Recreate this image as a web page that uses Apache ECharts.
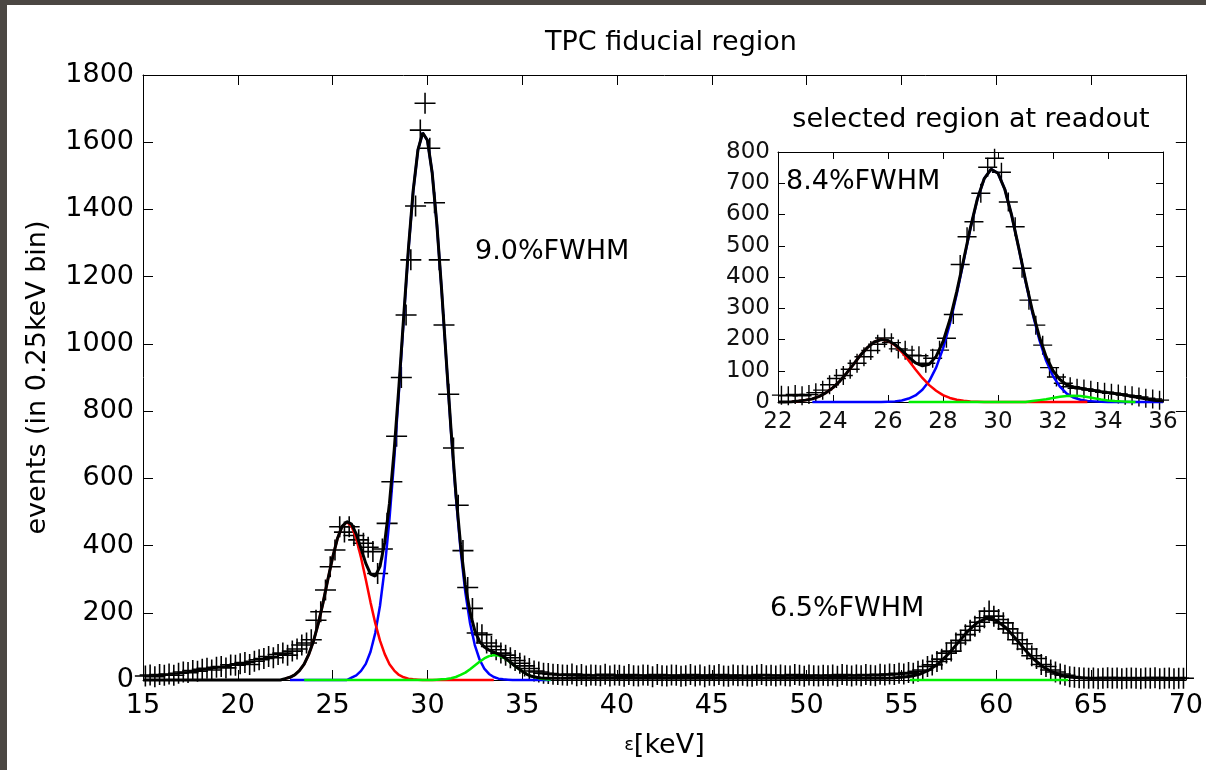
<!DOCTYPE html>
<html><head><meta charset="utf-8">
<script src="https://cdn.jsdelivr.net/npm/echarts@6/dist/echarts.min.js"></script>
<style>html,body{margin:0;padding:0;background:#fff}#c{width:1206px;height:770px}</style>
</head><body><div id="c"></div>
<script>
// ---------- main panel: measured counts per 0.25 keV bin (bin centres from 15.125 keV) ----------
const mainBinStart = 15.125, binWidth = 0.25;
const mainCounts = [
 12,15,10,16, 14,18,14,20, 24,22,28,26, 32,35,30,38, 40,36,45,44,
 48,52,46,56, 60,64,70,66, 76,80,74,86, 92,104,110,120, 178,203,268,337,
 387,456,440,456, 430,417,407,395, 382,317,390,466, 590,725,900,1086, 1250,1410,1636,1716,
 1582,1420,1250,1056, 850,690,520,385, 275,213,140,135, 110,100,90,80, 74,66,58,50,
 42,34,27,24, 20,19,17,16, 15,14,18,13, 16,12,15,14, 13,17,12,15,
 14,11,16,13, 12,15,14,10, 16,13,12,15, 14,11,13,16, 12,15,10,14,
 13,16,12,11, 15,13,14,12, 11,14,16,13, 14,12,15,13, 12,16,14,11,
 15,13,12,14, 13,15,11,16, 14,12,15,13, 16,14,13,17, 15,18,16,20,
 18,22,20,26, 30,40,45,55, 62,80,86,110, 118,135,148,160, 172,185,205,190,
 180,170,152,140, 120,108,92,72, 64,46,40,30, 24,18,14,10, 8,7,6,5,
 6,4,5,7, 5,6,4,5, 6,5,4,6, 5,7,4,5, 6,4,5,5
];
// fit components (sampled every 0.25 keV)
const redStart = 22.5;
const redFit = [4,8, 15,28,47,77, 117,169,231,299, 364,420,457,470, 457,420,364,299, 231,169,117,77, 47,28,15,8, 4,2,1,
 0,0,0,0,0,0,0,0,0,0,0,0,0,0,0,0];
const blueStart = 22.75;
const blueFit = [0,0,0,0,0,0,0,0,0,0,0,0,0,
 7,14,27,48, 84,140,221,333, 479,657,860,1074, 1280,1454,1576,1628, 1606,1510,1354,1159,
 946,736,547,387, 261,169,104,61, 34,18,9,4, 2,1,
 0,0,0,0,0,0,0,0,0];
const greenStart = 23.5;
const greenFit = [0,0,0,0,0,0,0,0,0,0,0,0,0,0,0,0,0,0,0,0,0,0,0,0,0,0,0,0,
 1,2,3,5,9,15,22,32,43,54,64,71,74,73,67,58,47,36,26,17,11,7,4,2,1];
const totalStart = 15.0;
const totalFit = [0,0,0,0,0,0,0,0,0,0,0,0,0,0,0,0,0,0,0,0,0,0,0,0,0,0,0,0,0,0,
 4,8, 15,28,47,77, 117,169,231,299, 364,420,457,471, 464,434,391,347, 315,309,338,410,
 526,685,875,1082, 1284,1456,1577,1628, 1606,1510,1355,1161, 949,741,556,402, 283,201,147,115,
 98,89,83,77, 69,59,47,36, 26,17,11,8, 6,5,5,5, 5];
const peak60Start = 37.0, peak60Step = 0.5;
const peak60Fit = [5,5,5,5,5,5,5,5,5,5,5,5,5,5,5,5,5,5,5,5,5,5,5,5,5,5,5,5,5,5,5,5,5,5,5,
 6,8,11,18,31,51,79,112,145,171,183,177,156,125,91,61,38,23,13,9,6,5,
 5,5,5,5,5,5,5,5,5,5];
const peak60BaseX = [55.45, 63.8];
const peak60BaseY = [0, 0];

// ---------- inset: selected region at readout ----------
const insetBinStart = 22.125;
const insetCounts = [
 22,20,24,20, 24,30,38,55, 75,85,105,124, 145,165,185,205, 190,170,166,150,
 148,124,140,166, 204,280,440,529, 577,668,751,780, 735,640,561,428, 326,246,182,110,
 80,60,49,44, 42,38,34,31, 28,26,22,20, 16,12,10,6
];
const insRedStart = 22.5;
const insRedFit = [1,3, 6,10,18,30, 46,67,93,121, 150,174,192,200, 196,182,160,133, 104,77,54,36, 22,13,7,4, 2,1,
 0,0,0,0,0,0,0,0,0,0,0,0,0,0,0,0];
const insBlueStart = 23.25;
const insBlueFit = [0,0,0,0,0,0,0,0,0,0,0,
 1,2,5,11, 21,39,67,110, 171,250,346,451, 557,649,715,745, 732,680,596,494, 387,286,200,132, 83,49,27,14, 7,3,2,1,
 0,0,0,0,0,0,0,0,0];
const insGreenStart = 26.75;
const insGreenFit = [0,0,0,0,0,0,0,0,0,0,0,0,0,0,0,0,0,0, 3,6,9,13,17,19,20,19,16,12,8,5,3,2,1,0];
const insTotalStart = 22.0;
const insTotalFit = [0,0,1,3, 6,10,18,30, 46,67,93,121, 150,174,192,200, 197,184,165,144, 125,116,121,146,
 193,263,353,455, 559,650,715,745, 732,680,596,495, 390,292,210,145, 100,72,55,48, 44,40,37,33,
 30,27,24,20, 16,12,8,5, 3];

const mainXTicks = {min:15, max:70, interval:5};
const mainYTicks = {min:0, max:1800, interval:200};
const insXTicks = {min:22, max:36, interval:2};
const insYTicks = {min:0, max:800, interval:100};

function toPairs(start, step, vals){ return vals.map((v,i)=>[start+i*step, v]); }

const FONT = 'DejaVu Sans';
const plusPath = 'path://M-0.75,-10 L0.75,-10 L0.75,-0.75 L10,-0.75 L10,0.75 L0.75,0.75 L0.75,10 L-0.75,10 L-0.75,0.75 L-10,0.75 L-10,-0.75 L-0.75,-0.75 Z';

function axisPair(gi, t, isX, big, name, nameGap, nameRich){
  const lblSize = big ? 27 : 23;
  const tickLen = big ? 10 : 7;
  const base = {
    gridIndex: gi, type:'value', min:t.min, max:t.max, interval:t.interval,
    splitLine:{show:false},
    axisLine:{show:true, onZero:false, lineStyle:{color:'#000', width:1}},
    axisTick:{show:true, inside:true, length:tickLen, lineStyle:{color:'#000', width:1}}
  };
  const a = Object.assign({}, base, {
    position: isX ? 'bottom' : 'left',
    axisLabel:{show:true, color: big ? '#000' : '#111', fontFamily:FONT, fontSize:lblSize,
      margin: big ? (isX ? 12 : 9) : (isX ? 9 : 8), formatter: v => String(v)}
  });
  if (name){
    a.name = name; a.nameLocation = 'middle'; a.nameGap = nameGap;
    a.nameTextStyle = {fontFamily:FONT, fontSize:27, color:'#000', rich: nameRich};
  }
  const b = Object.assign({}, base, {
    position: isX ? 'top' : 'right',
    axisLabel:{show:false}
  });
  return [a, b];
}

const [mx0, mx1] = axisPair(0, mainXTicks, true, true, '{a|ε}{b|[keV]}', 52,
  {a:{fontFamily:FONT, fontSize:18, color:'#000'}, b:{fontFamily:FONT, fontSize:27, color:'#000'}});
const [my0, my1] = axisPair(0, mainYTicks, false, true, 'events (in 0.25keV bin)', 92);
const [ix0, ix1] = axisPair(1, insXTicks, true, false);
const [iy0, iy1] = axisPair(1, insYTicks, false, false);

function lineSeries(name, xi, yi, data, color, width, z){
  return {name:name, type:'line', xAxisIndex:xi, yAxisIndex:yi, data:data, showSymbol:false, symbol:'none',
    smooth:false, clip:false, silent:true, animation:false, connectNulls:false, z:z,
    lineStyle:{color:color, width:width}, itemStyle:{color:color}};
}
function crossSeries(name, xi, yi, data, size){
  return {name:name, type:'scatter', xAxisIndex:xi, yAxisIndex:yi, data:data, symbol:plusPath, symbolSize:size,
    clip:false, silent:true, animation:false, z:2, itemStyle:{color:'#000', opacity:1}};
}

const chart = echarts.init(document.getElementById('c'), null, {renderer:'canvas'});
chart.setOption({
  animation:false,
  backgroundColor:'#fff',
  title:[
    {text:'TPC fiducial region', left:666, top:24, textAlign:'center',
     textStyle:{fontFamily:FONT, fontSize:27, fontWeight:'normal', color:'#000'}},
    {text:'selected region at readout', left:966, top:101, textAlign:'center',
     textStyle:{fontFamily:FONT, fontSize:27, fontWeight:'normal', color:'#000'}}
  ],
  grid:[
    {left:143, top:75, width:1050, height:605, containLabel:false},
    {left:778, top:152, width:385, height:250, containLabel:false, show:true, backgroundColor:'#fff', borderWidth:0}
  ],
  xAxis:[mx0, mx1, ix0, ix1],
  yAxis:[my0, my1, iy0, iy1],
  graphic:[
    {type:'rect', left:0, top:0, shape:{width:7, height:770}, style:{fill:'#4b4743'}, silent:true, z:100},
    {type:'rect', left:0, top:0, shape:{width:1206, height:5}, style:{fill:'#4b4743'}, silent:true, z:100},
    {type:'text', left:475, top:238, style:{text:'9.0%FWHM', fontFamily:FONT, fontSize:27, fill:'#000'}, z:50},
    {type:'text', left:770, top:595, style:{text:'6.5%FWHM', fontFamily:FONT, fontSize:27, fill:'#000'}, z:50},
    {type:'text', left:786, top:168, style:{text:'8.4%FWHM', fontFamily:FONT, fontSize:27, fill:'#000'}, z:50}
  ],
  series:[
    crossSeries('data', 0, 0, toPairs(mainBinStart, binWidth, mainCounts), 21),
    lineSeries('blue', 0, 0, toPairs(blueStart, binWidth, blueFit), '#0000ff', 2.5, 3),
    lineSeries('red', 0, 0, toPairs(redStart, binWidth, redFit), '#ff0000', 2.5, 4),
    lineSeries('green', 0, 0, toPairs(greenStart, binWidth, greenFit), '#00ee00', 2.5, 5),
    lineSeries('green60', 0, 0, peak60BaseX.map((x,i)=>[x, peak60BaseY[i]]), '#00ee00', 2.5, 5),
    lineSeries('total', 0, 0, toPairs(totalStart, binWidth, totalFit), '#000', 3, 6),
    lineSeries('total60', 0, 0, toPairs(peak60Start, peak60Step, peak60Fit), '#000', 3, 6),

    crossSeries('idata', 2, 2, toPairs(insetBinStart, binWidth, insetCounts), 19),
    lineSeries('iblue', 2, 2, toPairs(insBlueStart, binWidth, insBlueFit), '#0000ff', 2.5, 3),
    lineSeries('ired', 2, 2, toPairs(insRedStart, binWidth, insRedFit), '#ff0000', 2.5, 4),
    lineSeries('igreen', 2, 2, toPairs(insGreenStart, binWidth, insGreenFit), '#00ee00', 2.5, 5),
    lineSeries('itotal', 2, 2, toPairs(insTotalStart, binWidth, insTotalFit), '#000', 3, 6)
  ]
});
</script>
</body></html>
